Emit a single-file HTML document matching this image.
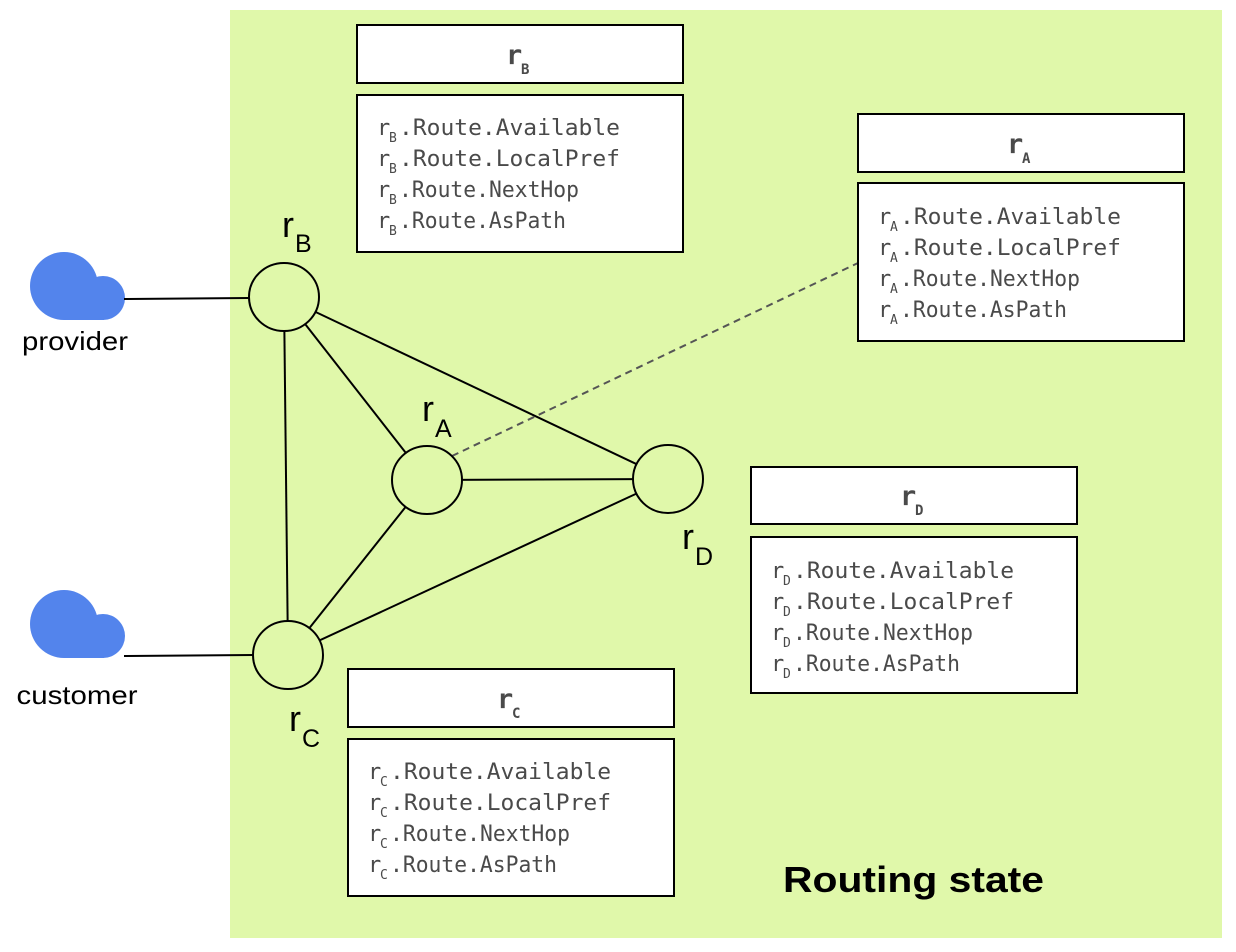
<!DOCTYPE html>
<html><head><meta charset="utf-8"><style>
html,body{margin:0;padding:0;background:#fff;}
svg{display:block;}
.m{font-family:"DejaVu Sans Mono","Liberation Mono",monospace;font-size:22px;fill:#4a4a4a;}
.s{font-family:"DejaVu Sans Mono","Liberation Mono",monospace;font-size:13px;fill:#4a4a4a;}
.h{font-family:"DejaVu Sans Mono","Liberation Mono",monospace;font-size:27px;font-weight:bold;fill:#4a4a4a;}
.hs{font-family:"DejaVu Sans Mono","Liberation Mono",monospace;font-size:14px;font-weight:bold;fill:#4a4a4a;}
.l{font-family:"Liberation Sans",sans-serif;fill:#000;}
</style></head><body>
<svg width="1236" height="952" viewBox="0 0 1236 952" xmlns="http://www.w3.org/2000/svg">
<rect x="230" y="10" width="992" height="928" fill="#e0f8aa"/>
<g fill="#5384ec">
<circle cx="64" cy="286" r="34"/><circle cx="103" cy="298" r="22"/><rect x="64" y="286" width="40" height="34"/>
<circle cx="64" cy="624" r="34"/><circle cx="103" cy="636" r="22"/><rect x="64" y="624" width="40" height="34"/>
</g>
<text class="l" x="75" y="350" font-size="26" text-anchor="middle" textLength="106" lengthAdjust="spacingAndGlyphs">provider</text>
<text class="l" x="77" y="704" font-size="26" text-anchor="middle" textLength="121" lengthAdjust="spacingAndGlyphs">customer</text>
<g stroke="#000" stroke-width="2" fill="none">
<line x1="124" y1="299" x2="249" y2="298"/>
<line x1="124" y1="656" x2="253" y2="655"/>
<line x1="284" y1="297" x2="288" y2="655"/>
<line x1="284" y1="297" x2="427" y2="480"/>
<line x1="284" y1="297" x2="668" y2="479"/>
<line x1="427" y1="480" x2="668" y2="479"/>
<line x1="427" y1="480" x2="288" y2="655"/>
<line x1="668" y1="479" x2="288" y2="655"/>
</g>
<line x1="452" y1="456" x2="858" y2="263" stroke="#555" stroke-width="2" stroke-dasharray="7,5"/>
<g stroke="#000" stroke-width="2" fill="#e0f8aa">
<ellipse cx="284" cy="297" rx="35" ry="34"/>
<ellipse cx="427" cy="480" rx="35" ry="34"/>
<ellipse cx="668" cy="479" rx="35" ry="34"/>
<ellipse cx="288" cy="655" rx="35" ry="34"/>
</g>
<g class="l">
<text x="282" y="237" font-size="36">r</text><text x="295" y="252" font-size="25">B</text>
<text x="422" y="421" font-size="36">r</text><text x="435" y="437" font-size="25">A</text>
<text x="682" y="549" font-size="36">r</text><text x="695" y="565" font-size="25">D</text>
<text x="289" y="731" font-size="36">r</text><text x="302" y="747" font-size="25">C</text>
</g>
<g stroke="#000" stroke-width="2" fill="#fff">
<rect x="357" y="25" width="326" height="58"/><rect x="357" y="95" width="326" height="157"/>
<rect x="858" y="114" width="326" height="58"/><rect x="858" y="183" width="326" height="158"/>
<rect x="751" y="467" width="326" height="57"/><rect x="751" y="537" width="326" height="156"/>
<rect x="348" y="669" width="326" height="58"/><rect x="348" y="739" width="326" height="157"/>
</g>
<text class="h" x="506" y="64">r</text><text class="hs" x="521" y="74">B</text>
<text class="h" x="1007" y="153">r</text><text class="hs" x="1022" y="163">A</text>
<text class="h" x="900" y="505">r</text><text class="hs" x="915" y="515">D</text>
<text class="h" x="497" y="708">r</text><text class="hs" x="512" y="718">C</text>
<g>
<text class="m" x="377" y="135">r</text><text class="s" x="389" y="142">B</text><text class="m" x="399" y="135" textLength="221" lengthAdjust="spacingAndGlyphs">.Route.Available</text>
<text class="m" x="377" y="166">r</text><text class="s" x="389" y="173">B</text><text class="m" x="399" y="166" textLength="221" lengthAdjust="spacingAndGlyphs">.Route.LocalPref</text>
<text class="m" x="377" y="197">r</text><text class="s" x="389" y="204">B</text><text class="m" x="399" y="197" textLength="180" lengthAdjust="spacingAndGlyphs">.Route.NextHop</text>
<text class="m" x="377" y="228">r</text><text class="s" x="389" y="235">B</text><text class="m" x="399" y="228" textLength="167" lengthAdjust="spacingAndGlyphs">.Route.AsPath</text>
</g>
<g>
<text class="m" x="878" y="224">r</text><text class="s" x="890" y="231">A</text><text class="m" x="900" y="224" textLength="221" lengthAdjust="spacingAndGlyphs">.Route.Available</text>
<text class="m" x="878" y="255">r</text><text class="s" x="890" y="262">A</text><text class="m" x="900" y="255" textLength="221" lengthAdjust="spacingAndGlyphs">.Route.LocalPref</text>
<text class="m" x="878" y="286">r</text><text class="s" x="890" y="293">A</text><text class="m" x="900" y="286" textLength="180" lengthAdjust="spacingAndGlyphs">.Route.NextHop</text>
<text class="m" x="878" y="317">r</text><text class="s" x="890" y="324">A</text><text class="m" x="900" y="317" textLength="167" lengthAdjust="spacingAndGlyphs">.Route.AsPath</text>
</g>
<g>
<text class="m" x="771" y="578">r</text><text class="s" x="783" y="585">D</text><text class="m" x="793" y="578" textLength="221" lengthAdjust="spacingAndGlyphs">.Route.Available</text>
<text class="m" x="771" y="609">r</text><text class="s" x="783" y="616">D</text><text class="m" x="793" y="609" textLength="221" lengthAdjust="spacingAndGlyphs">.Route.LocalPref</text>
<text class="m" x="771" y="640">r</text><text class="s" x="783" y="647">D</text><text class="m" x="793" y="640" textLength="180" lengthAdjust="spacingAndGlyphs">.Route.NextHop</text>
<text class="m" x="771" y="671">r</text><text class="s" x="783" y="678">D</text><text class="m" x="793" y="671" textLength="167" lengthAdjust="spacingAndGlyphs">.Route.AsPath</text>
</g>
<g>
<text class="m" x="368" y="779">r</text><text class="s" x="380" y="786">C</text><text class="m" x="390" y="779" textLength="221" lengthAdjust="spacingAndGlyphs">.Route.Available</text>
<text class="m" x="368" y="810">r</text><text class="s" x="380" y="817">C</text><text class="m" x="390" y="810" textLength="221" lengthAdjust="spacingAndGlyphs">.Route.LocalPref</text>
<text class="m" x="368" y="841">r</text><text class="s" x="380" y="848">C</text><text class="m" x="390" y="841" textLength="180" lengthAdjust="spacingAndGlyphs">.Route.NextHop</text>
<text class="m" x="368" y="872">r</text><text class="s" x="380" y="879">C</text><text class="m" x="390" y="872" textLength="167" lengthAdjust="spacingAndGlyphs">.Route.AsPath</text>
</g>
<text class="l" x="783" y="892" font-size="36" font-weight="bold" textLength="261" lengthAdjust="spacingAndGlyphs">Routing state</text>
</svg>
</body></html>
